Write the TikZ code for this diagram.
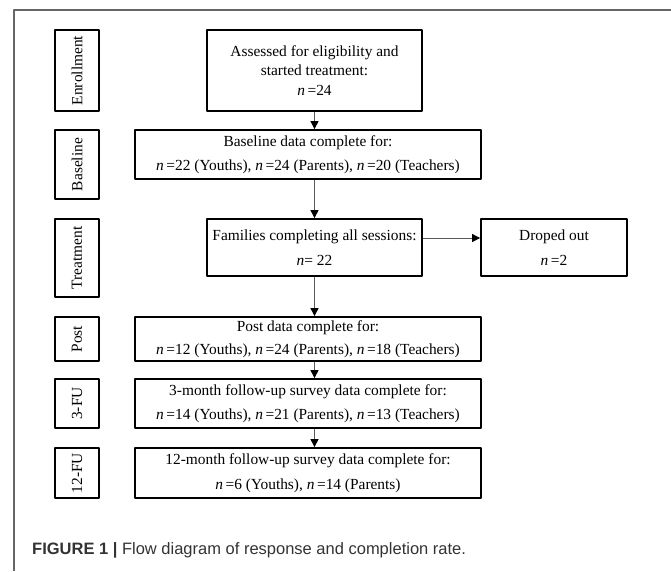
\documentclass[tikz,border=0pt]{standalone}
\usepackage{fontspec}
\setmainfont{Liberation Serif}
\newfontfamily\capfont{Liberation Sans}
\usetikzlibrary{arrows.meta}

\begin{document}
\begin{tikzpicture}[x=1pt, y=-1pt, line join=round,
		font=\fontsize{15.4}{19.5}\selectfont,
		stagebox/.style={draw, line width=1.8pt, rotate=90, minimum height=44pt, inner sep=0pt},
		mainbox/.style={draw, line width=1.8pt, align=center, inner sep=0pt},
		flowarrow/.style={draw=black!65, line width=0.9pt, -{Triangle[length=8pt, width=8pt, color=black]}}]
	\useasboundingbox (0,0) rectangle (671,571);
	% frame
	\draw[black!60, line width=1.2pt] (671,10) -- (14,10) -- (14,571);
	% stages
	\node[stagebox, minimum width=81pt] (sEnroll) at (77,70.5) {Enrollment};
	\node[stagebox, minimum width=69pt] (sBase) at (77,164.5) {Baseline};
	\node[stagebox, minimum width=78pt] (sTreat) at (77,258) {Treatment};
	\node[stagebox, minimum width=44pt] (sPost) at (77,339) {Post};
	\node[stagebox, minimum width=49pt] (sFuThree) at (77,403.5) {3-FU};
	\node[stagebox, minimum width=50pt] (sFuTwelve) at (77,473) {12-FU};
	% flow
	\node[mainbox, minimum width=215pt, minimum height=81pt] (assess) at (314.5,70.5)
		{Assessed for eligibility and\\ started treatment:\\ \textit{n}\,=24};
	\node[mainbox, minimum width=346pt, minimum height=49pt] (base) at (308,154.5)
		{Baseline data complete for:\\[5pt] \textit{n}\,=22 (Youths), \textit{n}\,=24 (Parents), \textit{n}\,=20 (Teachers)};
	\node[mainbox, minimum width=215pt, minimum height=57pt] (family) at (314.5,247.5)
		{Families completing all sessions:\\[5pt] \textit{n}= 22};
	\node[mainbox, minimum width=146pt, minimum height=57pt] (drop) at (554,247.5)
		{Droped out\\[5pt] \textit{n}\,=2};
	\node[mainbox, minimum width=346pt, minimum height=44pt] (post) at (308,339)
		{Post data complete for:\\[3pt] \textit{n}\,=12 (Youths), \textit{n}\,=24 (Parents), \textit{n}\,=18 (Teachers)};
	\node[mainbox, minimum width=346pt, minimum height=49pt] (fuThree) at (308,403.5)
		{3-month follow-up survey data complete for:\\[5pt] \textit{n}\,=14 (Youths), \textit{n}\,=21 (Parents), \textit{n}\,=13 (Teachers)};
	\node[mainbox, minimum width=346pt, minimum height=50pt] (fuTwelve) at (308,473)
		{12-month follow-up survey data complete for:\\[6pt] \textit{n}\,=6 (Youths), \textit{n}\,=14 (Parents)};
	\draw[flowarrow] (assess.south) -- (assess.south |- base.north);
	\draw[flowarrow] (assess.south |- base.south) -- (family.north);
	\draw[flowarrow] ([yshift=9.5pt]family.east) -- ([yshift=9.5pt]drop.west);
	\draw[flowarrow] (family.south) -- (family.south |- post.north);
	\draw[flowarrow] (family.south |- post.south) -- (family.south |- fuThree.north);
	\draw[flowarrow] (family.south |- fuThree.south) -- (family.south |- fuTwelve.north);
	% caption
	\node[anchor=base west, inner sep=0pt, text=black!80, font=\capfont\fontsize{16.5}{20}\selectfont] (caption) at (32,554)
		{\textbf{FIGURE 1 |} Flow diagram of response and completion rate.};
\end{tikzpicture}
\end{document}
